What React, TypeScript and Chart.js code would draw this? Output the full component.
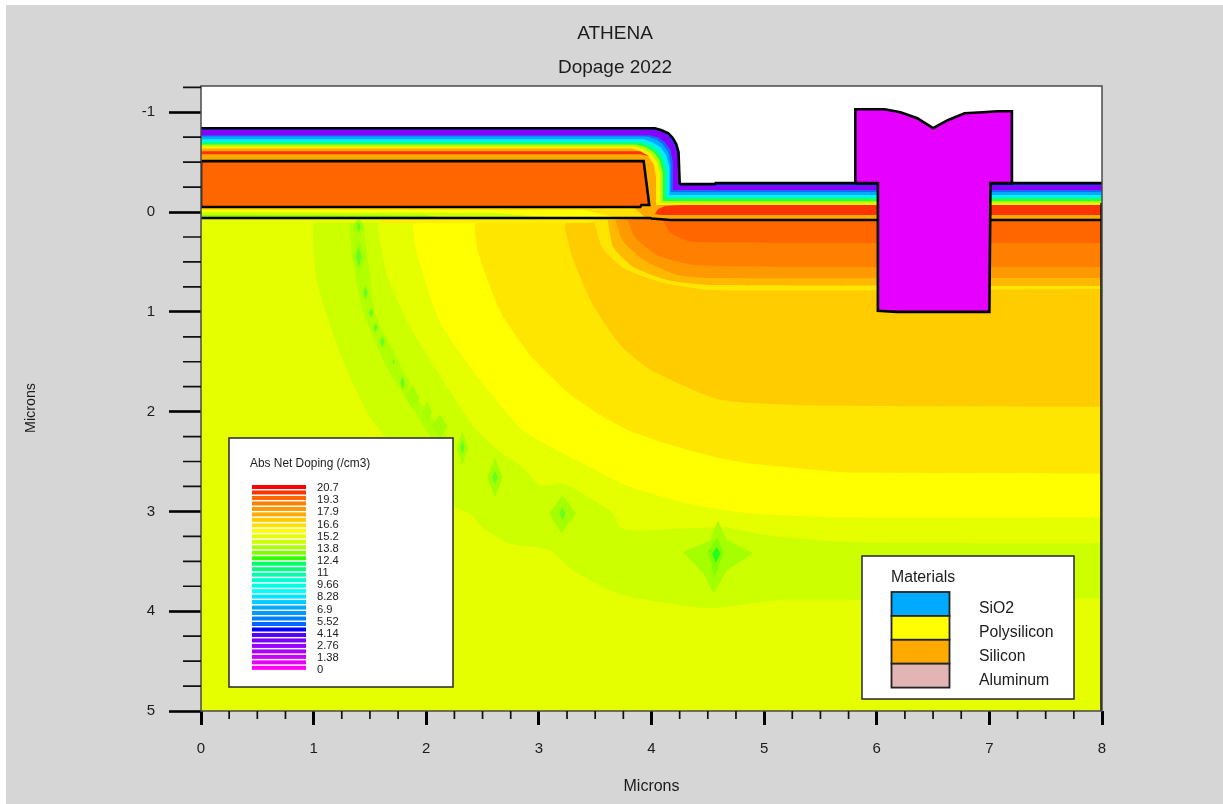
import React, { useEffect, useRef } from "react";
import { Chart, registerables } from "chart.js";

Chart.register(...registerables);

type P = [number, number];

const xTickValues = [0, 0.25, 0.5, 0.75, 1, 1.25, 1.5, 1.75, 2, 2.25, 2.5, 2.75, 3, 3.25, 3.5, 3.75, 4, 4.25, 4.5, 4.75, 5, 5.25, 5.5, 5.75, 6, 6.25, 6.5, 6.75, 7, 7.25, 7.5, 7.75, 8];
const yTickValues = [-1.25, -1, -0.75, -0.5, -0.25, 0, 0.25, 0.5, 0.75, 1, 1.25, 1.5, 1.75, 2, 2.25, 2.5, 2.75, 3, 3.25, 3.5, 3.75, 4, 4.25, 4.5, 4.75, 5];

const dopingLabels = ["20.7", "19.3", "17.9", "16.6", "15.2", "13.8", "12.4", "11", "9.66", "8.28", "6.9", "5.52", "4.14", "2.76", "1.38", "0"];
const dopingColors = ["#ff0000", "#ff3300", "#ff6600", "#ff8000", "#ff9900", "#ffaa00", "#ffc800", "#ffe000", "#ffff00", "#e6ff00", "#ccff00", "#aaff00", "#80ff00", "#33ff00", "#00ff66", "#00ff80", "#00ffaa", "#00ffcc", "#00ffe0", "#00ffff", "#00e6ff", "#00ccff", "#00aaff", "#0099ff", "#0080ff", "#0066ff", "#0000ff", "#5500ff", "#7700ff", "#9900ff", "#aa00ff", "#cc00ff", "#e600ff", "#ff00ff"];
const materialNames = ["SiO2", "Polysilicon", "Silicon", "Aluminum"];
const materialColors = ["#00aaff", "#ffff00", "#ffaa00", "#e2b4b4"];

// Oxide surface and its contours (microns)
const oxideSurface: P[] = [[0, -0.84], [4.03, -0.84], [4.09, -0.82], [4.15, -0.79], [4.19, -0.74], [4.22, -0.68], [4.24, -0.6], [4.25, -0.29], [4.26, -0.28], [4.56, -0.28], [4.57, -0.29], [8, -0.29]];
const oxidePurple: P[] = [[0, -0.82], [4.03, -0.82], [4.09, -0.8], [4.14, -0.76], [4.18, -0.7], [4.21, -0.64], [4.23, -0.55], [4.24, -0.26], [8, -0.26]];
const oxideBlue: P[] = [[0, -0.77], [3.98, -0.77], [4.06, -0.75], [4.12, -0.7], [4.17, -0.62], [4.19, -0.5], [4.19, -0.22], [8, -0.22]];
const oxideSky: P[] = [[0, -0.757], [3.96, -0.757], [4.04, -0.73], [4.1, -0.68], [4.15, -0.6], [4.17, -0.48], [4.17, -0.2], [8, -0.2]];
const oxideCyan: P[] = [[0, -0.73], [3.93, -0.73], [4.01, -0.7], [4.08, -0.65], [4.13, -0.57], [4.16, -0.45], [4.16, -0.17], [8, -0.17]];
const oxideTeal: P[] = [[0, -0.71], [3.91, -0.71], [3.99, -0.68], [4.06, -0.63], [4.11, -0.55], [4.14, -0.43], [4.14, -0.15], [8, -0.15]];
const oxideGreen: P[] = [[0, -0.69], [3.89, -0.69], [3.97, -0.66], [4.04, -0.61], [4.09, -0.53], [4.12, -0.41], [4.12, -0.13], [8, -0.13]];
const oxideLime: P[] = [[0, -0.676], [3.87, -0.676], [3.95, -0.65], [4.02, -0.6], [4.07, -0.52], [4.1, -0.39], [4.1, -0.11], [8, -0.11]];
const oxideYellow: P[] = [[0, -0.66], [3.85, -0.66], [3.93, -0.63], [4.0, -0.58], [4.05, -0.5], [4.08, -0.37], [4.08, -0.09], [8, -0.09]];
const oxideOrange: P[] = [[0, -0.636], [3.82, -0.636], [3.9, -0.61], [3.97, -0.56], [4.02, -0.48], [4.04, -0.35], [4.04, -0.07], [8, -0.07]];
const oxideClose: P[] = [[8, 0.1], [0, 0.1]];
const oxideRedTop: P[] = [[0, -0.61], [3.9, -0.61], [3.98, -0.56], [3.9, -0.58], [0, -0.58]];
const oxideRedRight: P[] = [[4.03, 0.02], [4.06, -0.03], [4.12, -0.06], [4.25, -0.07], [8, -0.07], [8, 0.03], [4.08, 0.03]];
const thinOxideA: P[] = [[0, -0.04], [3.85, -0.04], [3.95, 0.06], [0, 0.06]];
const thinOxideB: P[] = [[0, -0.02], [3.4, -0.02], [3.7, 0.06], [0, 0.06]];
const thinOxideC: P[] = [[0, 0], [2.6, 0.01], [3.2, 0.06], [0, 0.06]];
const thinOxideD: P[] = [[0, 0.03], [2, 0.035], [2.2, 0.06], [0, 0.06]];

// Materials outlines
const polyGate: P[] = [[0, -0.05], [3.9, -0.05], [3.91, -0.07], [3.98, -0.07], [3.96, -0.25], [3.93, -0.51], [0, -0.51]];
const aluminum: P[] = [[5.81, -0.29], [5.81, -1.03], [6.07, -1.03], [6.21, -1.0], [6.36, -0.94], [6.5, -0.84], [6.63, -0.92], [6.78, -0.99], [6.94, -1.0], [7.07, -1.01], [7.2, -1.01], [7.2, -0.29], [7.01, -0.29], [7.0, 1.0], [6.18, 1.0], [6.01, 0.99], [6.01, -0.29], [5.81, -0.29]];
const siliconSurface: P[] = [[0, 0.06], [3.99, 0.06], [4.0, 0.065], [4.17, 0.08], [8, 0.08]];
const siliconBase: P[] = [[0, 0.06], [3.99, 0.06], [4.17, 0.08], [8, 0.08], [8, 5], [0, 5]];
const siliconRightEdge: P[] = [[8, -0.09], [8, 5]];
const surfaceStrip: P[] = [[1.6, 0.06], [3.6, 0.06], [3.6, 0.11], [1.6, 0.11]];

// Silicon contours
const bandClose: P[] = [[8, 0.08], [7.98, 0.08], [4.19, 0.08], [4.17, 0.08], [4.15, 0.078], [3.99, 0.06], [3.97, 0.06], [3.62, 0.06], [3.6, 0.06], [3.45, 0.11]];
const ringClose: P[] = [[8, 0.08], [7.98, 0.08], [4.19, 0.08], [4.17, 0.08], [4.15, 0.078], [3.99, 0.06]];
const contourLime: P[] = [[1.01, 0.11], [0.99, 0.14], [1.03, 0.7], [1.23, 1.4], [1.47, 2.0], [1.62, 2.23], [1.94, 2.64], [2.26, 2.96], [2.39, 3.02], [2.5, 3.16], [2.74, 3.32], [3.1, 3.39], [3.3, 3.59], [3.69, 3.82], [4.14, 3.92], [4.52, 3.97], [5.12, 3.89], [5.76, 3.89], [7.98, 3.87], [8, 3.87]];
const contourValley: P[] = [[1.32, 0.11], [1.34, 0.43], [1.44, 1.0], [1.65, 1.56], [1.88, 1.96], [2.06, 2.28], [2.18, 2.25], [1.94, 1.9], [1.74, 1.46], [1.55, 1.03], [1.48, 0.46], [1.44, 0.11]];
const contourPale: P[] = [[1.59, 0.11], [1.57, 0.14], [1.65, 0.63], [1.86, 1.16], [2.1, 1.6], [2.42, 2.15], [2.63, 2.38], [2.86, 2.56], [3.01, 2.74], [3.21, 2.72], [3.39, 2.82], [3.66, 3.02], [3.72, 3.16], [3.87, 3.19], [4.28, 3.17], [4.67, 3.16], [5.03, 3.24], [5.76, 3.31], [7.98, 3.32], [8, 3.32]];
const contourYellow: P[] = [[1.9, 0.11], [1.88, 0.14], [1.92, 0.43], [2.12, 1.1], [2.42, 1.6], [2.85, 2.18], [3.1, 2.35], [3.39, 2.52], [3.78, 2.74], [4.28, 2.91], [4.88, 3.02], [5.76, 3.06], [7.98, 3.06], [8, 3.06]];
const contourGold: P[] = [[2.45, 0.11], [2.43, 0.14], [2.46, 0.4], [2.66, 1.0], [2.92, 1.43], [3.25, 1.8], [3.54, 2.03], [3.78, 2.18], [4.1, 2.31], [4.58, 2.46], [4.88, 2.52], [5.32, 2.57], [5.76, 2.61], [7.98, 2.62], [8, 2.62]];
const contourAmber: P[] = [[3.25, 0.11], [3.23, 0.14], [3.3, 0.46], [3.48, 0.93], [3.72, 1.33], [3.99, 1.58], [4.61, 1.88], [5.59, 1.94], [7.98, 1.95], [8, 1.95]];
const ringGold: P[] = [[3.48, 0.06], [3.5, 0.13], [3.56, 0.35], [3.75, 0.56], [4.08, 0.7], [4.52, 0.78], [7.98, 0.77], [8, 0.77]];
const ringAmber: P[] = [[3.61, 0.08], [3.66, 0.35], [3.84, 0.55], [4.14, 0.68], [4.52, 0.73], [7.98, 0.74], [8, 0.74]];
const ringOrange: P[] = [[3.68, 0.08], [3.74, 0.28], [3.93, 0.48], [4.23, 0.63], [4.52, 0.66], [7.98, 0.66], [8, 0.66]];
const ringDeep: P[] = [[3.79, 0.08], [3.85, 0.25], [4.05, 0.43], [4.37, 0.53], [5.32, 0.55], [7.98, 0.55], [8, 0.55]];
const ringCore: P[] = [[4.1, 0.08], [4.17, 0.21], [4.37, 0.3], [7.98, 0.31], [8, 0.31]];

// Low-doping spots along the junction
const spotsLight: P[][] = [
  [[1.35, 0.15], [1.4, 0.05], [1.45, 0.15], [1.4, 0.25]],
  [[1.34, 0.45], [1.4, 0.28], [1.46, 0.45], [1.4, 0.62]],
  [[1.82, 1.86], [1.88, 1.74], [1.94, 1.86], [1.88, 1.98]],
  [[1.97, 2.01], [2.01, 1.89], [2.05, 2.01], [2.01, 2.13]],
  [[2.05, 2.15], [2.12, 2.03], [2.19, 2.15], [2.12, 2.27]],
  [[2.27, 2.36], [2.32, 2.2], [2.37, 2.36], [2.32, 2.54]],
  [[2.54, 2.66], [2.61, 2.46], [2.68, 2.66], [2.61, 2.86]],
  [[3.09, 3.02], [3.21, 2.84], [3.33, 3.02], [3.2, 3.22]],
];
const spotsGreen: P[][] = [
  [[1.38, 0.15], [1.4, 0.1], [1.42, 0.15], [1.4, 0.2]],
  [[1.375, 0.45], [1.4, 0.34], [1.425, 0.45], [1.4, 0.56]],
  [[1.44, 0.81], [1.46, 0.74], [1.48, 0.81], [1.46, 0.88]],
  [[1.49, 1.01], [1.51, 0.96], [1.53, 1.01], [1.51, 1.06]],
  [[1.53, 1.16], [1.55, 1.11], [1.57, 1.16], [1.55, 1.21]],
  [[1.59, 1.3], [1.61, 1.24], [1.63, 1.3], [1.61, 1.36]],
  [[1.7, 1.5], [1.71, 1.47], [1.72, 1.5], [1.71, 1.53]],
  [[1.77, 1.71], [1.79, 1.64], [1.81, 1.71], [1.79, 1.78]],
  [[2.3, 2.36], [2.32, 2.29], [2.34, 2.36], [2.32, 2.43]],
  [[2.585, 2.66], [2.61, 2.59], [2.635, 2.66], [2.61, 2.73]],
  [[3.185, 3.02], [3.21, 2.95], [3.235, 3.02], [3.21, 3.09]],
];
const starOuter: P[] = [[4.28, 3.41], [4.52, 3.29], [4.59, 3.09], [4.67, 3.29], [4.9, 3.42], [4.67, 3.59], [4.55, 3.82], [4.46, 3.62]];
const starMiddle: P[] = [[4.5, 3.41], [4.58, 3.26], [4.64, 3.41], [4.56, 3.66]];
const starCore: P[] = [[4.54, 3.42], [4.58, 3.36], [4.61, 3.42], [4.57, 3.52]];

const pts = (d: P[]) => d.map(([x, y]) => ({ x, y }));
const area = (d: P[], color: string, stroke = 0, tension = 0) => ({
  data: pts(d),
  showLine: true,
  fill: "shape",
  backgroundColor: color,
  borderColor: stroke ? "#000000" : color,
  borderWidth: stroke,
  pointRadius: 0,
  tension,
});
const line = (d: P[], width: number) => ({
  data: pts(d),
  showLine: true,
  fill: false,
  borderColor: "#000000",
  borderWidth: width,
  pointRadius: 0,
  tension: 0,
});

const FONT = '"Liberation Sans", Arial, sans-serif';
const INK = "#1c1c1c";

const plotBackground = {
  id: "plotBackground",
  beforeDatasetsDraw(chart: any) {
    const { ctx, chartArea: a } = chart;
    ctx.save();
    ctx.fillStyle = "#ffffff";
    ctx.fillRect(a.left, a.top, a.right - a.left, a.bottom - a.top);
    ctx.restore();
  },
};

const decorPlugin = {
  id: "decor",
  afterDraw(chart: any) {
    const { ctx, chartArea: a, scales } = chart;
    ctx.save();
    // frame
    ctx.strokeStyle = "#4a4a4a";
    ctx.lineWidth = 1.5;
    ctx.strokeRect(a.left, a.top, a.right - a.left, a.bottom - a.top);
    // minor ticks
    ctx.strokeStyle = "#111";
    ctx.lineWidth = 1.7;
    ctx.beginPath();
    for (const t of scales.x.ticks) {
      if (Number.isInteger(t.value)) continue;
      const p = scales.x.getPixelForValue(t.value);
      ctx.moveTo(p, a.bottom);
      ctx.lineTo(p, a.bottom + 8);
    }
    for (const t of scales.y.ticks) {
      if (Number.isInteger(t.value)) continue;
      const p = scales.y.getPixelForValue(t.value);
      ctx.moveTo(a.left, p);
      ctx.lineTo(a.left - 18, p);
    }
    ctx.stroke();

    // y axis title
    ctx.save();
    ctx.translate(31, 408);
    ctx.rotate(-Math.PI / 2);
    ctx.textAlign = "center";
    ctx.textBaseline = "middle";
    ctx.fillStyle = INK;
    ctx.font = `14.3px ${FONT}`;
    ctx.fillText("Microns", 0, 0);
    ctx.restore();

    // doping legend
    ctx.fillStyle = "#fff";
    ctx.fillRect(229, 438, 224, 249);
    ctx.strokeStyle = "#333";
    ctx.lineWidth = 1.6;
    ctx.strokeRect(229, 438, 224, 249);
    ctx.textBaseline = "middle";
    ctx.textAlign = "left";
    ctx.fillStyle = INK;
    ctx.font = `11.9px ${FONT}`;
    ctx.fillText("Abs Net Doping (/cm3)", 250, 464);
    dopingColors.forEach((c, i) => {
      ctx.fillStyle = c;
      ctx.fillRect(252, 485 + i * 5.48, 54, 4);
    });
    ctx.fillStyle = INK;
    ctx.font = `11.2px ${FONT}`;
    dopingLabels.forEach((t, i) => ctx.fillText(t, 317, 488 + i * 12.15));

    // materials legend
    ctx.fillStyle = "#fff";
    ctx.fillRect(862, 556, 212, 143);
    ctx.strokeStyle = "#333";
    ctx.lineWidth = 1.6;
    ctx.strokeRect(862, 556, 212, 143);
    ctx.fillStyle = INK;
    ctx.font = `15.8px ${FONT}`;
    ctx.fillText("Materials", 891, 578);
    materialNames.forEach((t, i) => {
      const top = 592 + i * 23.9;
      ctx.fillStyle = materialColors[i];
      ctx.fillRect(891.5, top, 58, 23.9);
      ctx.strokeStyle = "#222";
      ctx.lineWidth = 1.8;
      ctx.strokeRect(891.5, top, 58, 23.9);
      ctx.fillStyle = INK;
      ctx.fillText(t, 979, top + 17);
    });
    ctx.restore();
  },
};

export default function App() {
  const ref = useRef<HTMLCanvasElement | null>(null);
  useEffect(() => {
    if (!ref.current) return;
    const smooth = 0.2;
    const layers = [
      area([...oxideSurface, ...oxideClose], "#3a2cff"),
      area([...oxidePurple, ...oxideClose], "#8800ff"),
      area([...oxideBlue, ...oxideClose], "#1a66ff"),
      area([...oxideSky, ...oxideClose], "#00aaff"),
      area([...oxideCyan, ...oxideClose], "#00eeff"),
      area([...oxideTeal, ...oxideClose], "#00ffaa"),
      area([...oxideGreen, ...oxideClose], "#22ff44"),
      area([...oxideLime, ...oxideClose], "#aaff00"),
      area([...oxideYellow, ...oxideClose], "#ffee00"),
      area([...oxideOrange, ...oxideClose], "#ffaa00"),
      area(oxideRedTop, "#ff3300"),
      area(oxideRedRight, "#ff3300"),
      area(thinOxideA, "#ffe000"),
      area(thinOxideB, "#ffff00"),
      area(thinOxideC, "#ccff00"),
      area(thinOxideD, "#88ff00"),
      area(siliconBase, "#e6ff00"),
      area(surfaceStrip, "#ffee00"),
      area([...contourLime, ...bandClose], "#ccff00", 0, smooth),
      area(contourValley, "#b2ff00", 0, smooth),
      area([...contourPale, ...bandClose], "#e6ff00", 0, smooth),
      ...spotsLight.map((s) => area(s, "#a6ff00")),
      ...spotsGreen.map((s) => area(s, "#66ff22")),
      area(starOuter, "#a6ff00"),
      area(starMiddle, "#80ff00"),
      area(starCore, "#22ff22"),
      area([...contourYellow, ...bandClose], "#ffff00", 0, smooth),
      area([...contourGold, ...bandClose], "#ffe600", 0, smooth),
      area([...contourAmber, ...bandClose], "#ffcc00", 0, smooth),
      area([...ringGold, ...ringClose], "#ffe600", 0, smooth),
      area([...ringAmber, ...ringClose], "#ffb800", 0, smooth),
      area([...ringOrange, ...ringClose], "#ff9900", 0, smooth),
      area([...ringDeep, ...ringClose], "#ff8000", 0, smooth),
      area([...ringCore, ...ringClose], "#ff6600", 0, smooth),
      area([...polyGate, polyGate[0]], "#ff6600", 2.6),
      line(oxideSurface, 2.6),
      line(siliconSurface, 2.6),
      line(siliconRightEdge, 3.4),
      area(aluminum, "#e600ff", 2.6),
    ];
    const chart = new Chart(ref.current, {
      type: "scatter",
      data: { datasets: layers.reverse() as any },
      plugins: [plotBackground, decorPlugin],
      options: {
        responsive: false,
        animation: false,
        devicePixelRatio: 1,
        events: [],
        layout: { padding: { left: 7, right: 0, top: 0, bottom: 0 } },
        plugins: {
          legend: { display: false },
          tooltip: { enabled: false },
          title: {
            display: true,
            text: "ATHENA",
            color: INK,
            font: { family: FONT, size: 19, weight: "normal", lineHeight: 1.2 },
            padding: { top: 22.5, bottom: 0 },
          },
          subtitle: {
            display: true,
            text: "Dopage 2022",
            color: INK,
            font: { family: FONT, size: 19, weight: "normal", lineHeight: 1.2 },
            padding: { top: 11.5, bottom: 6.4 },
          },
        },
        scales: {
          x: {
            type: "linear",
            min: 0,
            max: 8,
            afterBuildTicks: (s: any) => {
              s.ticks = xTickValues.map((value) => ({ value }));
            },
            afterFit: (s: any) => {
              s.height = 93;
            },
            border: { display: false },
            grid: {
              drawOnChartArea: false,
              drawTicks: true,
              tickLength: 14,
              tickWidth: 3,
              tickColor: (c: any) => (Number.isInteger(c.tick?.value) ? "#000" : "rgba(0,0,0,0)"),
            },
            ticks: {
              autoSkip: false,
              maxRotation: 0,
              padding: 15,
              color: INK,
              font: { family: FONT, size: 15 },
              callback: (v: any) => (Number.isInteger(v) ? String(v) : ""),
            },
            title: {
              display: true,
              text: "Microns",
              color: INK,
              font: { family: FONT, size: 16 },
              padding: { top: 0, bottom: 8 },
            },
          },
          y: {
            type: "linear",
            reverse: true,
            min: -1.263,
            max: 5,
            afterBuildTicks: (s: any) => {
              s.ticks = yTickValues.map((value) => ({ value }));
            },
            afterFit: (s: any) => {
              s.width = 194;
            },
            border: { display: false },
            grid: {
              drawOnChartArea: false,
              drawTicks: true,
              tickLength: 32,
              tickWidth: 2.6,
              tickColor: (c: any) => (Number.isInteger(c.tick?.value) ? "#000" : "rgba(0,0,0,0)"),
            },
            ticks: {
              autoSkip: false,
              padding: 14,
              color: INK,
              font: { family: FONT, size: 15 },
              callback: (v: any) => (Number.isInteger(v) ? String(v) : ""),
            },
          },
          yRight: {
            type: "linear",
            position: "right",
            display: true,
            grid: { display: false },
            border: { display: false },
            ticks: { display: false },
            afterFit: (s: any) => {
              s.width = 121;
            },
          },
        },
      } as any,
    });
    return () => chart.destroy();
  }, []);

  return (
    <div style={{ position: "fixed", inset: 0, background: "#ffffff", overflow: "hidden" }}>
      <div style={{ position: "absolute", left: 6, top: 5, right: 0, bottom: 0, background: "#d6d6d6" }} />
      <canvas ref={ref} width={1223} height={804} style={{ position: "absolute", left: 0, top: 0 }} />
    </div>
  );
}
